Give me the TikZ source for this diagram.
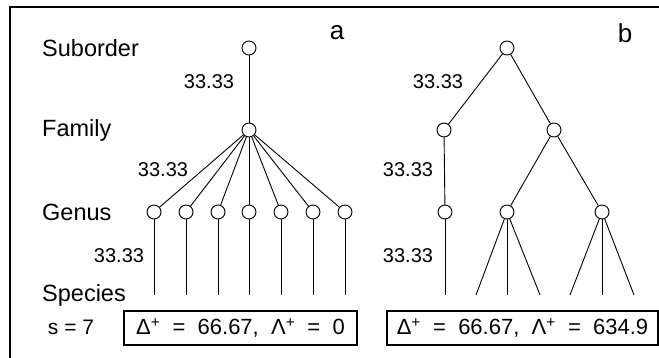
\documentclass[tikz,border=0pt]{standalone}
\usepackage{fontspec}
\setmainfont{Liberation Sans}
\usepackage{tikz}
\usetikzlibrary{positioning}

\begin{document}
\begin{tikzpicture}[
    x=1pt, y=-1pt,
    taxon/.style={draw, circle, fill=white, inner sep=0pt, minimum size=14pt, line width=0.9pt},
    rank/.style={anchor=west, inner sep=0pt, font=\fontsize{23.5}{27}\selectfont},
    dist/.style={inner sep=0pt, font=\fontsize{20}{24}\selectfont},
    panel/.style={inner sep=0pt, font=\fontsize{26}{30}\selectfont},
    indexbox/.style={draw, line width=1.3pt, minimum height=34pt, inner sep=0pt,
                     font=\fontsize{22}{26}\selectfont},
    edge/.style={line width=0.9pt}
]
\useasboundingbox (0,0) rectangle (659,358);
% frame
\draw[line width=1.8pt] (10,358) -- (10,7) -- (659,7);

% rank labels
\node[rank] (suborder) at (42,48) {Suborder};
\node[rank] (family) at (42,130) {Family};
\node[rank] (genus) at (42,212) {Genus};
\node[rank] (species) at (42,295) {Species};
\node[dist, font=\fontsize{21}{25}\selectfont] (nspec) at (71,327) {s = 7};

\node[panel] (pa) at (337,33) {a};
\node[panel] (pb) at (625,33) {b};

% tree a
\node[taxon] (aroot) at (249,48) {};
\node[taxon] (afam) at (249,130) {};
\node[taxon] (ag1) at (154,212) {};
\node[taxon] (ag2) at (186,212) {};
\node[taxon] (ag3) at (218,212) {};
\node[taxon] (ag4) at (249,212) {};
\node[taxon] (ag5) at (281,212) {};
\node[taxon] (ag6) at (313,212) {};
\node[taxon] (ag7) at (345,212) {};
\coordinate (as1) at (154,295);
\coordinate (as2) at (186,295);
\coordinate (as3) at (218,295);
\coordinate (as4) at (249,295);
\coordinate (as5) at (281,295);
\coordinate (as6) at (313,295);
\coordinate (as7) at (345,295);

\draw[edge] (aroot) -- (afam);
\draw[edge] (afam) -- (ag1);
\draw[edge] (afam) -- (ag2);
\draw[edge] (afam) -- (ag3);
\draw[edge] (afam) -- (ag4);
\draw[edge] (afam) -- (ag5);
\draw[edge] (afam) -- (ag6);
\draw[edge] (afam) -- (ag7);
\draw[edge] (ag1) -- (as1);
\draw[edge] (ag2) -- (as2);
\draw[edge] (ag3) -- (as3);
\draw[edge] (ag4) -- (as4);
\draw[edge] (ag5) -- (as5);
\draw[edge] (ag6) -- (as6);
\draw[edge] (ag7) -- (as7);

\node[dist] (ad1) at (209,82) {33.33};
\node[dist] (ad2) at (163,170) {33.33};
\node[dist] (ad3) at (119,256) {33.33};

% tree b
\node[taxon] (broot) at (507,48) {};
\node[taxon] (bfam1) at (444,130) {};
\node[taxon] (bfam2) at (554,130) {};
\node[taxon] (bg1) at (445,212) {};
\node[taxon] (bg2) at (507,212) {};
\node[taxon] (bg3) at (602,212) {};
\coordinate (bs1) at (445,295);
\coordinate (bs2) at (476,295);
\coordinate (bs3) at (507,295);
\coordinate (bs4) at (540,295);
\coordinate (bs5) at (570,295);
\coordinate (bs6) at (602,295);
\coordinate (bs7) at (634,295);

\draw[edge] (broot) -- (bfam1);
\draw[edge] (broot) -- (bfam2);
\draw[edge] (bfam1) -- (bg1);
\draw[edge] (bfam2) -- (bg2);
\draw[edge] (bfam2) -- (bg3);
\draw[edge] (bg1) -- (bs1);
\draw[edge] (bg2) -- (bs2);
\draw[edge] (bg2) -- (bs3);
\draw[edge] (bg2) -- (bs4);
\draw[edge] (bg3) -- (bs5);
\draw[edge] (bg3) -- (bs6);
\draw[edge] (bg3) -- (bs7);

\node[dist] (bd1) at (438,82) {33.33};
\node[dist] (bd2) at (408,170) {33.33};
\node[dist] (bd3) at (408,256) {33.33};

% index boxes
\node[indexbox, minimum width=233pt] (boxa) at (240.5,328)
    {Δ\textsuperscript{+}\ \ =\ \ 66.67,\ \ Λ\textsuperscript{+}\ \ =\ \ 0};
\node[indexbox, minimum width=271pt] (boxb) at (522.5,328)
    {Δ\textsuperscript{+}\ \ =\ \ 66.67,\ \ Λ\textsuperscript{+}\ \ =\ \ 634.9};
\end{tikzpicture}
\end{document}
